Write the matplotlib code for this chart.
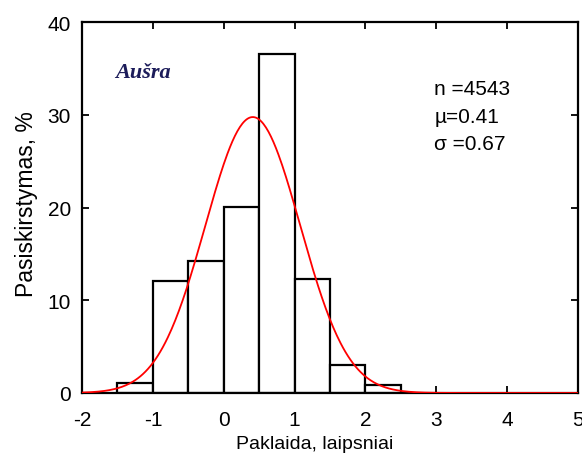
import numpy as np
import matplotlib
matplotlib.use("Agg")
import matplotlib.pyplot as plt

plt.rcParams['font.family'] = ['Liberation Sans', 'DejaVu Sans']
plt.rcParams['axes.unicode_minus'] = False

# Histogram of forecast errors (bin left edges, bin width 0.5)
bin_left = [-1.5, -1.0, -0.5, 0.0, 0.5, 1.0, 1.5, 2.0]
bin_width = 0.5
freq_pct = [1.05, 12.05, 14.2, 20.1, 36.55, 12.3, 3.0, 0.85]

# Fitted normal distribution parameters
n_obs = 4543
mu = 0.41
sigma = 0.67

x_ticks = [-2, -1, 0, 1, 2, 3, 4, 5]
y_ticks = [0, 10, 20, 30, 40]

fig = plt.figure(figsize=(5.82, 4.56), dpi=100)
ax = fig.add_axes([0.141, 0.136, 0.852, 0.813])

ax.bar(bin_left, freq_pct, width=bin_width, align='edge',
       facecolor='white', edgecolor='black', linewidth=1.6, zorder=2)

xs = np.linspace(-2, 5, 400)
pdf = np.exp(-0.5 * ((xs - mu) / sigma) ** 2) / (sigma * np.sqrt(2 * np.pi))
ax.plot(xs, 100 * bin_width * pdf, color='red', linewidth=1.3, zorder=3)

ax.set_xlim(-2, 5)
ax.set_ylim(0, 40)
ax.set_xticks(x_ticks)
ax.set_yticks(y_ticks)
ax.tick_params(direction='in', length=5, width=1.3, top=True, right=True,
               labelsize=15)
ax.tick_params(axis='x', pad=12)
ax.tick_params(axis='y', pad=8)
for s in ax.spines.values():
    s.set_linewidth(1.6)

ax.set_xlabel('Paklaida, laipsniai', fontsize=14)
ax.xaxis.set_label_coords(0.470, -0.114)
ax.set_ylabel('Pasiskirstymas, %', fontsize=16.5)
ax.yaxis.set_label_coords(-0.089, 0.5125)

ax.text(0.066, 0.852, 'Aušra', transform=ax.transAxes, fontsize=16,
        fontfamily='Liberation Serif', fontweight='bold', fontstyle='italic',
        color='#1c1c5a', va='baseline', ha='left')

stats = [f'n ={n_obs}', f'µ=0.{int(round(mu*100)):02d}', f'σ =0.{int(round(sigma*100)):02d}']
for i, t in enumerate(stats):
    ax.text(0.710, 0.820 - i * 0.074, t, transform=ax.transAxes, fontsize=15,
            va='center', ha='left')

fig.savefig('out.png', dpi=100)
